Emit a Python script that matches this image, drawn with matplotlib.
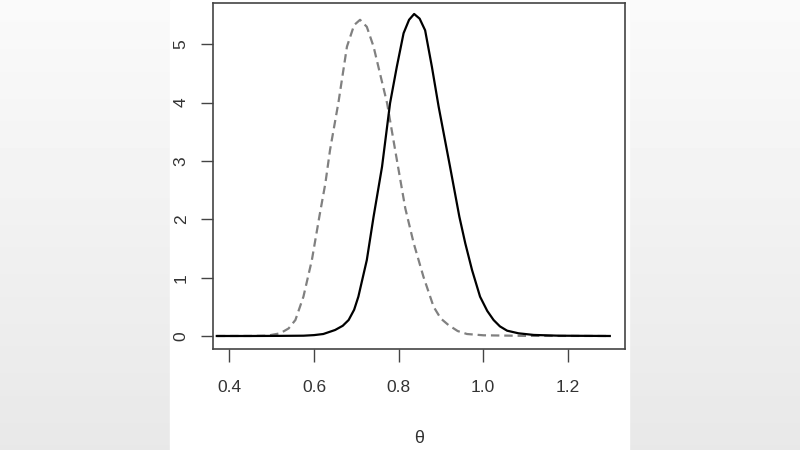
import numpy as np
import matplotlib
matplotlib.use("Agg")
import matplotlib.pyplot as plt
from matplotlib.patches import Rectangle

# kształt (theta, gęstość)
theta_solid = [0.370, 0.450, 0.520, 0.575, 0.600, 0.622, 0.650, 0.668, 0.682, 0.695, 0.705,
               0.725, 0.741, 0.761, 0.780, 0.796, 0.812, 0.825, 0.837, 0.850, 0.863,
               0.879, 0.895, 0.922, 0.944, 0.958, 0.974, 0.993, 1.010, 1.025, 1.040,
               1.057, 1.084, 1.120, 1.180, 1.300]
dens_solid = [0.0, 0.0, 0.002, 0.005, 0.015, 0.034, 0.103, 0.175, 0.274, 0.450, 0.674,
              1.302, 2.045, 2.90, 3.99, 4.615, 5.19, 5.42, 5.52, 5.44, 5.24,
              4.615, 3.93, 2.90, 2.045, 1.589, 1.131, 0.674, 0.430, 0.274, 0.165,
              0.091, 0.046, 0.018, 0.005, 0.0]

theta_dash = [0.370, 0.450, 0.489, 0.520, 0.540, 0.556, 0.575, 0.595, 0.613, 0.627, 0.638,
              0.658, 0.678, 0.695, 0.709, 0.725, 0.741, 0.773, 0.792, 0.816, 0.836,
              0.859, 0.883, 0.900, 0.918, 0.940, 0.962, 1.001, 1.100, 1.300]
dens_dash = [0.0, 0.001, 0.005, 0.046, 0.130, 0.274, 0.674, 1.302, 2.06, 2.62, 3.19,
             4.01, 4.96, 5.33, 5.42, 5.30, 4.96, 3.99, 3.19, 2.19, 1.589,
             1.016, 0.502, 0.300, 0.189, 0.085, 0.034, 0.012, 0.002, 0.0]

x_ticks = [0.4, 0.6, 0.8, 1.0, 1.2]
x_ticklabels = ["0.4", "0.6", "0.8", "1.0", "1.2"]
y_ticks = [0, 1, 2, 3, 4, 5]

plt.rcParams['font.family'] = ['Liberation Sans', 'DejaVu Sans']

fig = plt.figure(figsize=(8, 4.5), dpi=100)

# tlo: szary gradient + biały panel
bg = fig.add_axes([0, 0, 1, 1], zorder=-2)
grad = np.linspace(0.98, 0.91, 100).reshape(-1, 1)
bg.imshow(grad, aspect='auto', cmap='gray', vmin=0, vmax=1, extent=[0, 1, 0, 1])
bg.add_patch(Rectangle((170 / 800, 0), (629 - 170) / 800, 1, color='white'))
bg.set_xlim(0, 1)
bg.set_ylim(0, 1)
bg.axis('off')

ax = fig.add_axes([213 / 800, 1 - 349 / 450, 412 / 800, 346 / 450])
ax.set_facecolor('white')

ax.plot(theta_dash, dens_dash, color='#808080', lw=1.6, dashes=(3.8, 2.2))
ax.plot(theta_solid, dens_solid, color='black', lw=1.6)

ax.set_xlim(0.361, 1.336)
ax.set_ylim(-0.223, 5.708)

ax.set_xticks(x_ticks)
ax.set_xticklabels(x_ticklabels)
ax.set_yticks(y_ticks)
ax.set_yticklabels([str(v) for v in y_ticks], rotation=90, va='center')

for s in ax.spines.values():
    s.set_color('#444444')
    s.set_linewidth(1.2)

ax.tick_params(axis='x', length=9.5, width=1, color='#444444', pad=13,
               labelsize=12.5, labelcolor='#333333')
ax.tick_params(axis='y', length=9, width=1, color='#444444', pad=8.5,
               labelsize=12.5, labelcolor='#333333')

ax.set_xlabel('θ', fontsize=13, color='#333333', labelpad=25)

fig.savefig('out.png', dpi=100)
